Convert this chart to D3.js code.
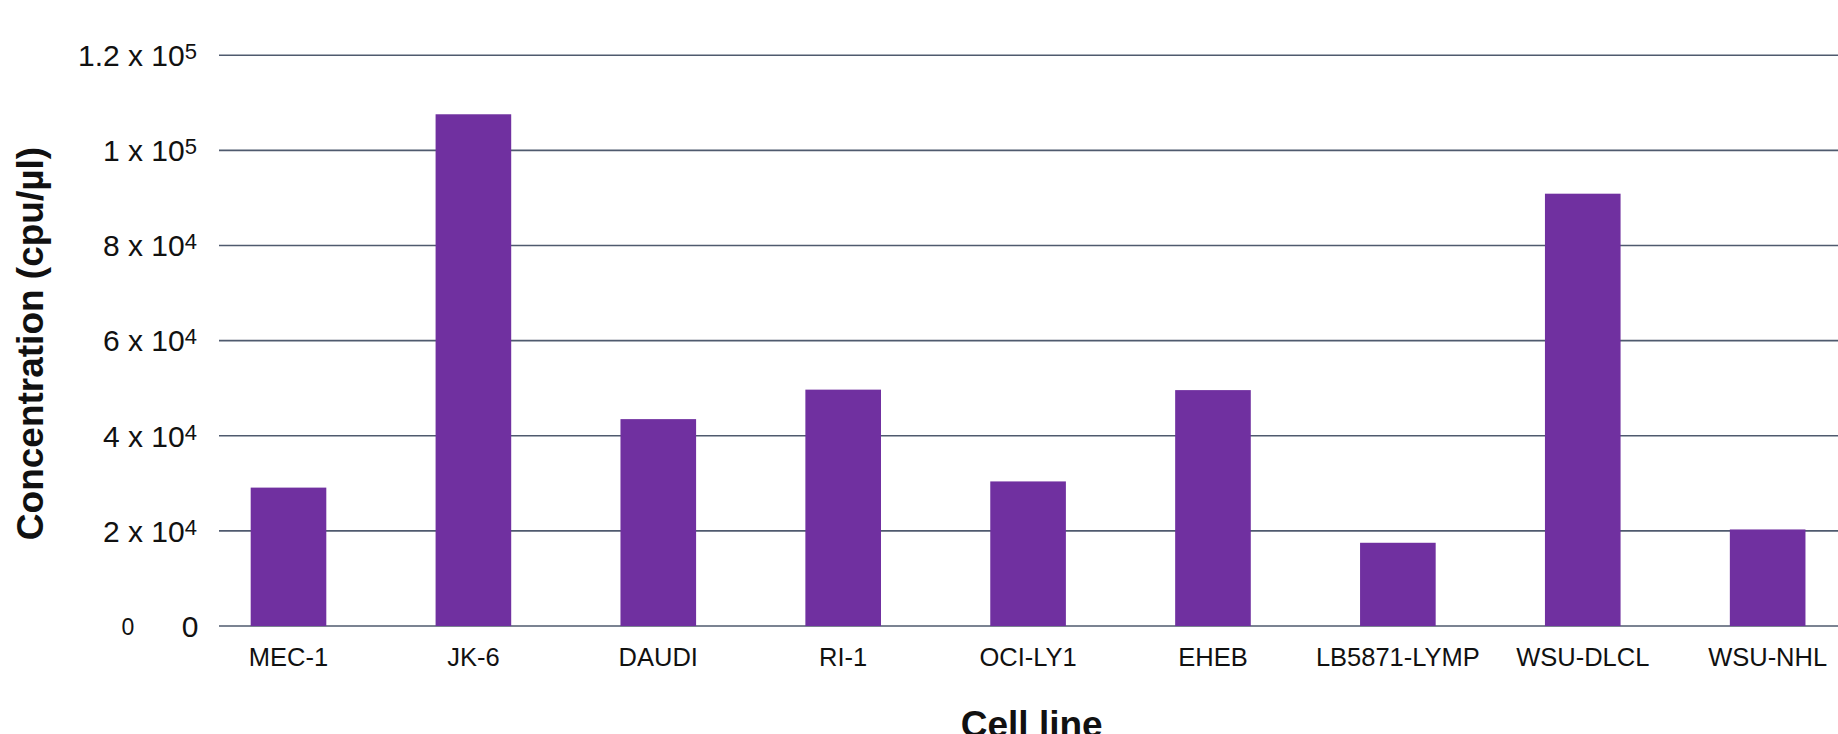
<!DOCTYPE html>
<html>
<head>
<meta charset="utf-8">
<script src="https://cdn.jsdelivr.net/npm/d3@7"></script>
<style>
  html, body { margin: 0; padding: 0; background: #fff; overflow: hidden; }
  svg { display: block; font-family: "Liberation Sans", Arial, sans-serif; }
</style>
</head>
<body>
<svg id="chart" width="1838" height="734"></svg>
<script>
// Cell lines and measured concentrations (cpu/µl)
const cellLines = ["MEC-1", "JK-6", "DAUDI", "RI-1", "OCI-LY1", "EHEB", "LB5871-LYMP", "WSU-DLCL", "WSU-NHL"];
const concentrations = [29100, 107600, 43500, 49700, 30400, 49600, 17500, 90900, 20300];

// Y-axis ticks and their scientific-notation labels
const tickValues = [0, 20000, 40000, 60000, 80000, 100000, 120000];
const tickMantissa = ["0", "2 x 10", "4 x 10", "6 x 10", "8 x 10", "1 x 10", "1.2 x 10"];
const tickExponent = ["", "4", "4", "4", "4", "5", "5"];

const yTitle = "Concentration (cpu/µl)";
const xTitle = "Cell line";

const svg = d3.select("#chart");

const plotLeft = 219, plotRight = 1860;
const y = d3.scaleLinear().domain([0, 120000]).range([626, 55.3]);
const x = d3.scaleBand()
  .domain(cellLines)
  .range([196.05, 1860.1])
  .paddingInner(0.591)
  .paddingOuter(0.2955);

// Horizontal gridlines (including the baseline)
svg.append("g")
  .selectAll("line")
  .data(tickValues)
  .join("line")
  .attr("x1", plotLeft)
  .attr("x2", plotRight)
  .attr("y1", d => y(d))
  .attr("y2", d => y(d))
  .attr("stroke", "#4f5a6e")
  .attr("stroke-width", 1.6);

// Bars
svg.append("g")
  .selectAll("rect")
  .data(cellLines)
  .join("rect")
  .attr("x", d => x(d))
  .attr("width", x.bandwidth())
  .attr("y", (d, i) => y(concentrations[i]))
  .attr("height", (d, i) => y(0) - y(concentrations[i]))
  .attr("fill", "#7030a0");

// Y tick labels with superscript exponents
const tickLabels = svg.append("g")
  .selectAll("text")
  .data(tickValues)
  .join("text")
  .attr("x", (d, i) => tickExponent[i] ? 197 : 198.5)
  .attr("y", d => y(d) + 10.8)
  .attr("text-anchor", "end")
  .attr("font-size", 30)
  .attr("fill", "#111");

tickLabels.append("tspan").text((d, i) => tickMantissa[i]);
tickLabels.filter((d, i) => tickExponent[i] !== "")
  .append("tspan")
  .attr("font-size", 22)
  .attr("dy", -7)
  .text((d, i) => tickExponent[tickValues.indexOf(d)]);

// Secondary zero marker left of the axis
svg.append("text")
  .attr("x", 128)
  .attr("y", 635)
  .attr("text-anchor", "middle")
  .attr("font-size", 23)
  .attr("fill", "#111")
  .text("0");

// Category labels
svg.append("g")
  .selectAll("text")
  .data(cellLines)
  .join("text")
  .attr("x", d => x(d) + x.bandwidth() / 2)
  .attr("y", 666)
  .attr("text-anchor", "middle")
  .attr("font-size", 25.5)
  .attr("fill", "#111")
  .text(d => d);

// Axis titles
svg.append("text")
  .attr("transform", "translate(42.7,343.5) rotate(-90)")
  .attr("text-anchor", "middle")
  .attr("font-size", 37)
  .attr("font-weight", "bold")
  .attr("fill", "#111")
  .text(yTitle);

svg.append("text")
  .attr("x", 1031.7)
  .attr("y", 736.5)
  .attr("text-anchor", "middle")
  .attr("font-size", 37)
  .attr("font-weight", "bold")
  .attr("fill", "#111")
  .text(xTitle);
</script>
</body>
</html>
